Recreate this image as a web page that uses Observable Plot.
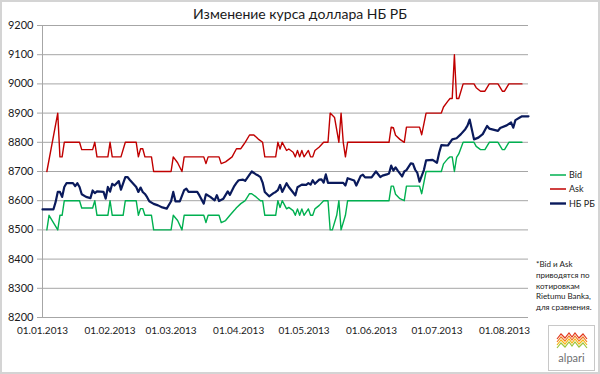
<!DOCTYPE html>
<html><head><meta charset="utf-8">
<script src="https://cdn.jsdelivr.net/npm/d3@7"></script>
<script src="https://cdn.jsdelivr.net/npm/@observablehq/plot@0.6"></script>
<style>
html,body{margin:0;padding:0;background:#fff;}
#frame{position:relative;width:600px;height:374px;box-shadow:inset 0 0 0 2px #d4d4d4;font-family:Lato,"Open Sans",sans-serif;color:#1a1a1a;overflow:hidden;}
#chart{position:absolute;left:0;top:0;}
#title{position:absolute;left:0;width:600px;top:5px;text-align:center;font-size:14px;}
#legend{position:absolute;left:548px;top:166px;}
#note{position:absolute;left:536px;top:259px;font-size:8px;line-height:10.8px;white-space:nowrap;}
#logo{position:absolute;left:548px;top:325px;}
#chart svg [aria-label^="x-axis"] text{font-size:10px;}
#chart svg [aria-label^="y-axis"] text{font-size:11px;}
#chart svg [aria-label^="y-axis"] line,#chart svg [aria-label^="y-axis"] path{stroke:#a6a6a6;}
</style></head>
<body>
<div id="frame">
  <div id="title">Изменение курса доллара НБ РБ</div>
  <div id="chart"></div>
  <svg id="legend" width="50" height="45" font-family="Lato, sans-serif" font-size="9" fill="#1a1a1a">
    <line x1="2" x2="18" y1="9" y2="9" stroke="#00b050" stroke-width="1.5"/>
    <text x="21" y="12">Bid</text>
    <line x1="2" x2="18" y1="23" y2="23" stroke="#c00000" stroke-width="1.5"/>
    <text x="21" y="26">Ask</text>
    <line x1="2" x2="18" y1="37.5" y2="37.5" stroke="#0a1a5c" stroke-width="2.4"/>
    <text x="21" y="40.5">НБ РБ</text>
  </svg>
  <div id="note">*Bid и Ask<br>приводятся по<br>котировкам<br>Rietumu Banka,<br>для сравнения.</div>
  <svg id="logo" width="47" height="46">
    <rect x="0.5" y="0.5" width="46" height="45" fill="#fff" stroke="#c8c8c8"/>
    <polyline points="9,14 13,9 17,13 21,8 24,12 27,8 31,13 35,9 39,14" fill="none" stroke="#e2381c" stroke-width="1.2"/>
    <polyline points="9,17 13,12 17,16 21,11 24,15 27,11 31,16 35,12 39,17" fill="none" stroke="#f07b22" stroke-width="1.2"/>
    <polyline points="9,20 13,15 17,19 21,14 24,18 27,14 31,19 35,15 39,20" fill="none" stroke="#f5b614" stroke-width="1.2"/>
    <polyline points="9,23 13,18 17,22 21,17 24,21 27,17 31,22 35,18 39,23" fill="none" stroke="#9cc43c" stroke-width="1.2"/>
    <text x="23.5" y="37" text-anchor="middle" font-size="11" fill="#6d6e71" font-family="Lato, sans-serif">alpari</text>
  </svg>
</div>
<script>
const yTicks = [8200, 8300, 8400, 8500, 8600, 8700, 8800, 8900, 9000, 9100, 9200];
const xTickLabels = ["2013-01-01","2013-02-01","2013-03-01","2013-04-01","2013-05-01","2013-06-01","2013-07-01","2013-08-01"];
const xDomain = ["2013-01-01","2013-08-12"];

const askDates = ["2013-01-03","2013-01-08","2013-01-09","2013-01-10","2013-01-11","2013-01-18","2013-01-19","2013-01-24","2013-01-25","2013-01-26","2013-01-31","2013-02-01","2013-02-02","2013-02-06","2013-02-08","2013-02-13","2013-02-14","2013-02-15","2013-02-16","2013-02-17","2013-02-20","2013-02-21","2013-03-01","2013-03-02","2013-03-04","2013-03-06","2013-03-07","2013-03-16","2013-03-17","2013-03-18","2013-03-23","2013-03-24","2013-03-26","2013-03-29","2013-03-31","2013-04-02","2013-04-03","2013-04-04","2013-04-06","2013-04-08","2013-04-10","2013-04-12","2013-04-13","2013-04-18","2013-04-19","2013-04-20","2013-04-21","2013-04-23","2013-04-24","2013-04-26","2013-04-27","2013-04-28","2013-04-29","2013-04-30","2013-05-01","2013-05-02","2013-05-03","2013-05-04","2013-05-05","2013-05-06","2013-05-08","2013-05-10","2013-05-12","2013-05-13","2013-05-15","2013-05-17","2013-05-18","2013-05-19","2013-05-20","2013-05-21","2013-06-09","2013-06-10","2013-06-11","2013-06-12","2013-06-14","2013-06-16","2013-06-17","2013-06-23","2013-06-24","2013-06-26","2013-07-03","2013-07-04","2013-07-06","2013-07-07","2013-07-08","2013-07-09","2013-07-10","2013-07-11","2013-07-13","2013-07-18","2013-07-19","2013-07-21","2013-07-23","2013-07-25","2013-07-29","2013-07-31","2013-08-01","2013-08-03","2013-08-09"];
const askValues = [8700,8900,8750,8750,8800,8800,8775,8775,8800,8750,8750,8800,8750,8750,8800,8800,8750,8778,8778,8750,8750,8700,8700,8750,8730,8700,8750,8750,8727,8750,8750,8727,8733,8750,8778,8778,8789,8800,8825,8825,8811,8800,8750,8750,8800,8777,8800,8772,8777,8766,8750,8772,8750,8772,8750,8761,8772,8750,8750,8772,8784,8800,8800,8900,8885,8800,8900,8800,8750,8800,8800,8852,8850,8824,8810,8800,8852,8852,8826,8900,8900,8921,8941,8950,8950,9100,8950,8950,9000,9000,8987,8975,8975,9000,9000,8975,8975,9000,9000];

const bidDates = ["2013-01-03","2013-01-04","2013-01-08","2013-01-09","2013-01-10","2013-01-11","2013-01-18","2013-01-19","2013-01-24","2013-01-25","2013-01-26","2013-01-31","2013-02-01","2013-02-02","2013-02-07","2013-02-08","2013-02-13","2013-02-14","2013-02-15","2013-02-16","2013-02-17","2013-02-20","2013-02-21","2013-03-01","2013-03-02","2013-03-04","2013-03-06","2013-03-07","2013-03-16","2013-03-17","2013-03-18","2013-03-23","2013-03-24","2013-03-26","2013-03-28","2013-03-30","2013-03-31","2013-04-02","2013-04-04","2013-04-06","2013-04-07","2013-04-09","2013-04-11","2013-04-12","2013-04-13","2013-04-18","2013-04-19","2013-04-20","2013-04-21","2013-04-23","2013-04-24","2013-04-26","2013-04-27","2013-04-28","2013-04-29","2013-04-30","2013-05-01","2013-05-02","2013-05-03","2013-05-04","2013-05-05","2013-05-06","2013-05-08","2013-05-10","2013-05-12","2013-05-13","2013-05-14","2013-05-16","2013-05-17","2013-05-18","2013-05-20","2013-05-21","2013-06-09","2013-06-10","2013-06-11","2013-06-12","2013-06-14","2013-06-16","2013-06-17","2013-06-23","2013-06-24","2013-06-26","2013-07-03","2013-07-04","2013-07-06","2013-07-07","2013-07-08","2013-07-09","2013-07-10","2013-07-11","2013-07-13","2013-07-18","2013-07-19","2013-07-21","2013-07-23","2013-07-25","2013-07-29","2013-07-31","2013-08-01","2013-08-03","2013-08-09"];
const bidValues = [8500,8550,8500,8550,8550,8600,8600,8575,8575,8600,8550,8550,8600,8550,8550,8600,8600,8550,8573,8573,8550,8550,8500,8500,8550,8532,8500,8550,8550,8525,8550,8550,8525,8532,8550,8567,8576,8590,8600,8624,8624,8613,8600,8600,8550,8550,8600,8577,8600,8572,8577,8566,8550,8572,8550,8572,8550,8561,8572,8550,8550,8572,8584,8600,8600,8500,8500,8550,8600,8500,8550,8600,8600,8650,8650,8622,8607,8600,8650,8650,8624,8700,8700,8726,8744,8750,8750,8700,8748,8760,8800,8800,8786,8775,8775,8800,8800,8775,8775,8800,8800];

const nbDates = ["2013-01-01","2013-01-06","2013-01-07","2013-01-08","2013-01-09","2013-01-10","2013-01-11","2013-01-12","2013-01-15","2013-01-16","2013-01-17","2013-01-18","2013-01-19","2013-01-21","2013-01-23","2013-01-24","2013-01-25","2013-01-26","2013-01-29","2013-01-30","2013-01-31","2013-02-01","2013-02-02","2013-02-03","2013-02-05","2013-02-06","2013-02-08","2013-02-09","2013-02-10","2013-02-13","2013-02-14","2013-02-15","2013-02-16","2013-02-17","2013-02-18","2013-02-19","2013-02-21","2013-02-23","2013-02-25","2013-02-27","2013-03-01","2013-03-02","2013-03-03","2013-03-05","2013-03-07","2013-03-08","2013-03-09","2013-03-13","2013-03-14","2013-03-16","2013-03-17","2013-03-19","2013-03-21","2013-03-22","2013-03-23","2013-03-25","2013-03-27","2013-03-28","2013-03-30","2013-03-31","2013-04-01","2013-04-03","2013-04-04","2013-04-06","2013-04-07","2013-04-09","2013-04-10","2013-04-11","2013-04-12","2013-04-13","2013-04-15","2013-04-17","2013-04-18","2013-04-19","2013-04-20","2013-04-21","2013-04-23","2013-04-24","2013-04-26","2013-04-27","2013-04-28","2013-04-30","2013-05-02","2013-05-03","2013-05-04","2013-05-05","2013-05-06","2013-05-08","2013-05-09","2013-05-10","2013-05-11","2013-05-12","2013-05-19","2013-05-20","2013-05-21","2013-05-24","2013-05-25","2013-05-27","2013-05-28","2013-05-29","2013-06-01","2013-06-03","2013-06-05","2013-06-06","2013-06-08","2013-06-09","2013-06-10","2013-06-11","2013-06-12","2013-06-13","2013-06-15","2013-06-16","2013-06-17","2013-06-19","2013-06-20","2013-06-21","2013-06-22","2013-06-23","2013-06-25","2013-06-26","2013-06-29","2013-07-01","2013-07-02","2013-07-03","2013-07-06","2013-07-08","2013-07-10","2013-07-12","2013-07-14","2013-07-15","2013-07-16","2013-07-18","2013-07-20","2013-07-22","2013-07-24","2013-07-25","2013-07-29","2013-07-30","2013-08-02","2013-08-04","2013-08-05","2013-08-06","2013-08-08","2013-08-09","2013-08-12"];
const nbValues = [8570,8570,8595,8630,8630,8613,8647,8660,8660,8650,8660,8647,8622,8613,8609,8635,8626,8632,8630,8607,8647,8631,8658,8652,8667,8638,8681,8681,8672,8647,8630,8645,8630,8623,8612,8598,8589,8584,8577,8573,8598,8630,8598,8598,8636,8641,8630,8630,8618,8590,8622,8613,8601,8619,8599,8607,8632,8620,8650,8661,8670,8672,8668,8689,8700,8690,8686,8681,8662,8630,8615,8626,8630,8636,8654,8630,8660,8647,8628,8618,8646,8655,8654,8660,8655,8670,8658,8672,8673,8662,8690,8661,8661,8652,8677,8669,8652,8685,8689,8680,8680,8700,8681,8686,8690,8693,8720,8703,8714,8703,8683,8700,8705,8728,8726,8706,8695,8665,8705,8738,8740,8730,8764,8790,8789,8810,8814,8828,8845,8857,8878,8810,8816,8828,8856,8847,8839,8849,8858,8868,8850,8876,8885,8889,8889];

const toRows = (dates, values) => dates.map((d, i) => ({date: new Date(d + "T00:00:00Z"), value: values[i]}));
const ask = toRows(askDates, askValues);
const bid = toRows(bidDates, bidValues);
const nb = toRows(nbDates, nbValues);

const chart = Plot.plot({
  width: 545,
  height: 345,
  marginLeft: 42,
  marginRight: 17,
  marginTop: 25,
  marginBottom: 28,
  style: {fontFamily: "Lato, 'Open Sans', sans-serif", color: "#1a1a1a", background: "transparent", overflow: "visible"},
  x: {type: "utc", domain: xDomain.map(d => new Date(d + "T00:00:00Z")), ticks: xTickLabels.map(d => new Date(d + "T00:00:00Z")), tickFormat: d3.utcFormat("%d.%m.%Y"), tickSize: 0, tickPadding: 9, label: null},
  y: {domain: [8200, 9200], ticks: yTicks, tickSize: 5, tickPadding: 4, label: null, tickFormat: d => String(d)},
  marks: [
    Plot.ruleY(yTicks, {stroke: "#a6a6a6", strokeWidth: 1}),
    Plot.ruleX([new Date(xDomain[0] + "T00:00:00Z")], {stroke: "#a6a6a6", strokeWidth: 1}),
    Plot.line(bid, {x: "date", y: "value", stroke: "#00b050", strokeWidth: 1.4}),
    Plot.line(ask, {x: "date", y: "value", stroke: "#c00000", strokeWidth: 1.4}),
    Plot.line(nb, {x: "date", y: "value", stroke: "#0a1a5c", strokeWidth: 2.2})
  ]
});
document.getElementById("chart").appendChild(chart);
</script>
</body></html>
